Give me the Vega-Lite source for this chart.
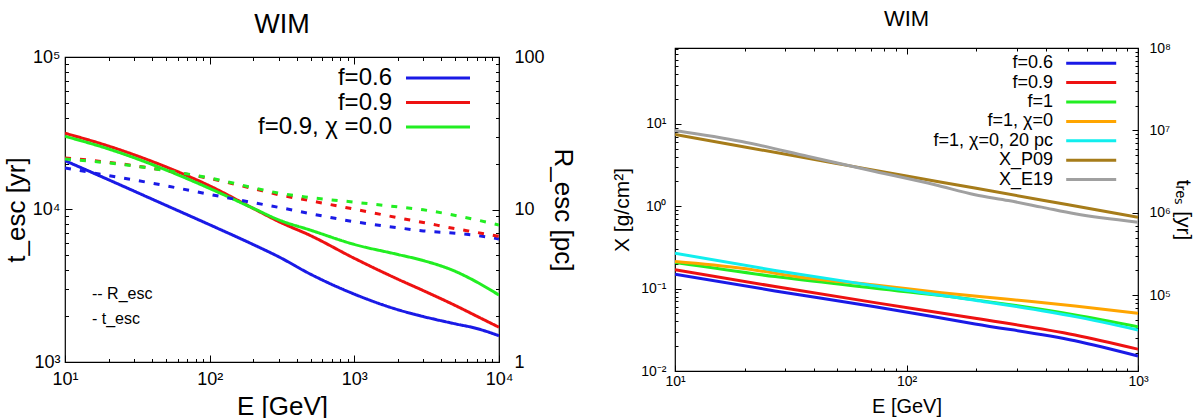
{
  "$schema": "https://vega.github.io/schema/vega-lite/v6.json",
  "padding": {"left": 2, "top": 6, "right": 0, "bottom": 0},
  "background": "white",
  "bounds": "flush",
  "spacing": 176,
  "center": true,
  "config": {
    "font": "Liberation Sans",
    "view": {"stroke": "black", "strokeWidth": 1.2},
    "title": {"font": "Liberation Sans", "fontWeight": "normal", "color": "black", "anchor": "middle"},
    "axis": {
      "domain": false, "grid": false, "tickColor": "black", "tickWidth": 1,
      "labelColor": "black", "titleColor": "black", "titleFontWeight": "normal",
      "labelFont": "Liberation Sans", "titleFont": "Liberation Sans",
      "labelFlush": false, "labelOverlap": false, "labelBound": false
    },
    "legend": {"labelFont": "Liberation Sans", "labelColor": "black", "padding": 0}
  },
  "resolve": {"scale": {"x": "independent", "y": "independent", "color": "independent", "strokeDash": "independent"}},
  "datasets": {
    "left_t": [
      {"E": 10, "t": 20893, "series": "f=0.6"}, {"E": 20, "t": 15668, "series": "f=0.6"}, {"E": 50, "t": 10641, "series": "f=0.6"},
      {"E": 100, "t": 7943, "series": "f=0.6"}, {"E": 200, "t": 5890, "series": "f=0.6"}, {"E": 300, "t": 4898, "series": "f=0.6"},
      {"E": 500, "t": 3758, "series": "f=0.6"}, {"E": 1000, "t": 2786, "series": "f=0.6"}, {"E": 2000, "t": 2203, "series": "f=0.6"},
      {"E": 3000, "t": 1986, "series": "f=0.6"}, {"E": 5000, "t": 1778, "series": "f=0.6"}, {"E": 7000, "t": 1660, "series": "f=0.6"},
      {"E": 10000, "t": 1486, "series": "f=0.6"},
      {"E": 10, "t": 31623, "series": "f=0.9"}, {"E": 20, "t": 26062, "series": "f=0.9"}, {"E": 50, "t": 19011, "series": "f=0.9"},
      {"E": 100, "t": 14289, "series": "f=0.9"}, {"E": 200, "t": 10162, "series": "f=0.9"}, {"E": 300, "t": 8337, "series": "f=0.9"},
      {"E": 500, "t": 6730, "series": "f=0.9"}, {"E": 1000, "t": 4786, "series": "f=0.9"}, {"E": 2000, "t": 3491, "series": "f=0.9"},
      {"E": 3000, "t": 2938, "series": "f=0.9"}, {"E": 5000, "t": 2344, "series": "f=0.9"}, {"E": 7000, "t": 2000, "series": "f=0.9"},
      {"E": 10000, "t": 1690, "series": "f=0.9"},
      {"E": 10, "t": 30200, "series": "f=0.9, χ =0.0"}, {"E": 20, "t": 24946, "series": "f=0.9, χ =0.0"}, {"E": 50, "t": 18155, "series": "f=0.9, χ =0.0"},
      {"E": 100, "t": 13740, "series": "f=0.9, χ =0.0"}, {"E": 200, "t": 10186, "series": "f=0.9, χ =0.0"}, {"E": 300, "t": 8551, "series": "f=0.9, χ =0.0"},
      {"E": 500, "t": 7311, "series": "f=0.9, χ =0.0"}, {"E": 1000, "t": 5902, "series": "f=0.9, χ =0.0"}, {"E": 2000, "t": 5070, "series": "f=0.9, χ =0.0"},
      {"E": 3000, "t": 4624, "series": "f=0.9, χ =0.0"}, {"E": 5000, "t": 3926, "series": "f=0.9, χ =0.0"}, {"E": 7000, "t": 3350, "series": "f=0.9, χ =0.0"},
      {"E": 10000, "t": 2748, "series": "f=0.9, χ =0.0"}
    ],
    "left_R": [
      {"E": 10, "R": 18.7, "series": "f=0.6"}, {"E": 20, "R": 16.7, "series": "f=0.6"}, {"E": 50, "R": 14.3, "series": "f=0.6"},
      {"E": 100, "R": 12.56, "series": "f=0.6"}, {"E": 200, "R": 11.09, "series": "f=0.6"}, {"E": 300, "R": 10.33, "series": "f=0.6"},
      {"E": 500, "R": 9.38, "series": "f=0.6"}, {"E": 1000, "R": 8.32, "series": "f=0.6"}, {"E": 2000, "R": 7.59, "series": "f=0.6"},
      {"E": 3000, "R": 7.24, "series": "f=0.6"}, {"E": 5000, "R": 6.98, "series": "f=0.6"}, {"E": 7000, "R": 6.76, "series": "f=0.6"},
      {"E": 10000, "R": 6.41, "series": "f=0.6"},
      {"E": 10, "R": 21.8, "series": "f=0.9"}, {"E": 20, "R": 20.4, "series": "f=0.9"}, {"E": 50, "R": 18.0, "series": "f=0.9"},
      {"E": 100, "R": 15.96, "series": "f=0.9"}, {"E": 200, "R": 13.7, "series": "f=0.9"}, {"E": 300, "R": 12.5, "series": "f=0.9"},
      {"E": 500, "R": 11.4, "series": "f=0.9"}, {"E": 1000, "R": 10.05, "series": "f=0.9"}, {"E": 2000, "R": 8.83, "series": "f=0.9"},
      {"E": 3000, "R": 8.22, "series": "f=0.9"}, {"E": 5000, "R": 7.48, "series": "f=0.9"}, {"E": 7000, "R": 7.08, "series": "f=0.9"},
      {"E": 10000, "R": 6.67, "series": "f=0.9"},
      {"E": 10, "R": 21.4, "series": "f=0.9, χ =0.0"}, {"E": 20, "R": 20.2, "series": "f=0.9, χ =0.0"}, {"E": 50, "R": 18.0, "series": "f=0.9, χ =0.0"},
      {"E": 100, "R": 16.1, "series": "f=0.9, χ =0.0"}, {"E": 200, "R": 13.9, "series": "f=0.9, χ =0.0"}, {"E": 300, "R": 12.8, "series": "f=0.9, χ =0.0"},
      {"E": 500, "R": 11.97, "series": "f=0.9, χ =0.0"}, {"E": 1000, "R": 11.17, "series": "f=0.9, χ =0.0"}, {"E": 2000, "R": 10.4, "series": "f=0.9, χ =0.0"},
      {"E": 3000, "R": 9.95, "series": "f=0.9, χ =0.0"}, {"E": 5000, "R": 9.14, "series": "f=0.9, χ =0.0"}, {"E": 7000, "R": 8.55, "series": "f=0.9, χ =0.0"},
      {"E": 10000, "R": 7.91, "series": "f=0.9, χ =0.0"}
    ],
    "right": [
      {"E": 10, "X": 0.150, "series": "f=0.6"}, {"E": 27.04, "X": 0.0938, "series": "f=0.6"}, {"E": 73.1, "X": 0.0604, "series": "f=0.6"},
      {"E": 197.7, "X": 0.0372, "series": "f=0.6"}, {"E": 534.6, "X": 0.0233, "series": "f=0.6"}, {"E": 1000, "X": 0.0152, "series": "f=0.6"},
      {"E": 10, "X": 0.169, "series": "f=0.9"}, {"E": 27.04, "X": 0.106, "series": "f=0.9"}, {"E": 73.1, "X": 0.0676, "series": "f=0.9"},
      {"E": 197.7, "X": 0.0437, "series": "f=0.9"}, {"E": 534.6, "X": 0.0274, "series": "f=0.9"}, {"E": 1000, "X": 0.0184, "series": "f=0.9"},
      {"E": 10, "X": 0.207, "series": "f=1"}, {"E": 27.04, "X": 0.140, "series": "f=1"}, {"E": 73.1, "X": 0.101, "series": "f=1"},
      {"E": 197.7, "X": 0.0730, "series": "f=1"}, {"E": 534.6, "X": 0.0479, "series": "f=1"}, {"E": 1000, "X": 0.0345, "series": "f=1"},
      {"E": 10, "X": 0.213, "series": "f=1, χ=0"}, {"E": 19.4, "X": 0.177, "series": "f=1, χ=0"}, {"E": 37.7, "X": 0.134, "series": "f=1, χ=0"},
      {"E": 73.1, "X": 0.111, "series": "f=1, χ=0"}, {"E": 141.9, "X": 0.0893, "series": "f=1, χ=0"}, {"E": 275.4, "X": 0.0743, "series": "f=1, χ=0"},
      {"E": 534.6, "X": 0.0617, "series": "f=1, χ=0"}, {"E": 1000, "X": 0.0502, "series": "f=1, χ=0"},
      {"E": 10, "X": 0.269, "series": "f=1, χ=0, 20 pc"}, {"E": 27.04, "X": 0.166, "series": "f=1, χ=0, 20 pc"}, {"E": 73.1, "X": 0.108, "series": "f=1, χ=0, 20 pc"},
      {"E": 197.7, "X": 0.0724, "series": "f=1, χ=0, 20 pc"}, {"E": 534.6, "X": 0.0457, "series": "f=1, χ=0, 20 pc"}, {"E": 1000, "X": 0.0315, "series": "f=1, χ=0, 20 pc"},
      {"E": 10, "X": 7.41, "series": "X_P09"}, {"E": 20, "X": 5.24, "series": "X_P09"}, {"E": 50, "X": 3.30, "series": "X_P09"},
      {"E": 100, "X": 2.33, "series": "X_P09"}, {"E": 200, "X": 1.65, "series": "X_P09"}, {"E": 500, "X": 1.04, "series": "X_P09"},
      {"E": 1000, "X": 0.733, "series": "X_P09"},
      {"E": 10, "X": 8.32, "series": "X_E19"}, {"E": 19.4, "X": 6.11, "series": "X_E19"}, {"E": 37.7, "X": 4.02, "series": "X_E19"},
      {"E": 73.1, "X": 2.64, "series": "X_E19"}, {"E": 132.7, "X": 1.82, "series": "X_E19"}, {"E": 197.7, "X": 1.377, "series": "X_E19"},
      {"E": 275.4, "X": 1.172, "series": "X_E19"}, {"E": 383.7, "X": 0.975, "series": "X_E19"}, {"E": 534.6, "X": 0.809, "series": "X_E19"},
      {"E": 1000, "X": 0.641, "series": "X_E19"}
    ]
  },
  "hconcat": [
    {
      "width": 434,
      "height": 305,
      "title": {"text": "WIM", "fontSize": 27, "offset": 9},
      "layer": [
        {
          "data": {"name": "left_t"},
          "mark": {"type": "line", "strokeWidth": 3, "clip": true, "interpolate": "monotone"},
          "encoding": {
            "x": {
              "field": "E", "type": "quantitative",
              "scale": {"type": "log", "domain": [10, 10000]},
              "axis": {
                "orient": "bottom", "title": "E [GeV]", "titleFontSize": 26, "titlePadding": 2,
                "values": [10, 20, 30, 40, 50, 60, 70, 80, 90, 100, 200, 300, 400, 500, 600, 700, 800, 900, 1000, 2000, 3000, 4000, 5000, 6000, 7000, 8000, 9000, 10000],
                "labelExpr": "abs(log(datum.value)/LN10 - round(log(datum.value)/LN10)) < 0.001 ? '10' + ['⁰','¹','²','³','⁴','⁵','⁶','⁷','⁸','⁹'][round(log(datum.value)/LN10)] : ''",
                "labelFontSize": 18, "labelPadding": 15,
                "tickSize": {"condition": {"test": "abs(log(datum.value)/LN10 - round(log(datum.value)/LN10)) < 0.001", "value": -7}, "value": -3.5}
              }
            },
            "y": {
              "field": "t", "type": "quantitative",
              "scale": {"type": "log", "domain": [1000, 100000]},
              "axis": {
                "orient": "left", "title": "t_esc [yr]", "titleFontSize": 26, "titlePadding": 3,
                "values": [1000, 2000, 3000, 4000, 5000, 6000, 7000, 8000, 9000, 10000, 20000, 30000, 40000, 50000, 60000, 70000, 80000, 90000, 100000],
                "labelExpr": "abs(log(datum.value)/LN10 - round(log(datum.value)/LN10)) < 0.001 ? '10' + ['⁰','¹','²','³','⁴','⁵','⁶','⁷','⁸','⁹'][round(log(datum.value)/LN10)] : ''",
                "labelFontSize": 18, "labelPadding": 12,
                "tickSize": {"condition": {"test": "abs(log(datum.value)/LN10 - round(log(datum.value)/LN10)) < 0.001", "value": -7}, "value": -3.5}
              }
            },
            "color": {
              "field": "series", "type": "nominal",
              "scale": {"domain": ["f=0.6", "f=0.9", "f=0.9, χ =0.0"], "range": ["#1a1ae6", "#ee1111", "#22ee22"]},
              "legend": {
                "title": null, "orient": "none", "legendX": 361, "legendY": 9,
                "symbolType": "M-6.4,0H6.4", "symbolSize": 100, "symbolStrokeWidth": 3,
                "labelFontSize": 24, "labelAlign": "right", "labelOffset": -58, "labelLimit": 400, "rowPadding": 0.5
              }
            },
            "strokeDash": {
              "datum": "- t_esc", "type": "nominal",
              "scale": {"domain": ["-- R_esc", "- t_esc"], "range": [[6, 9], [1, 0]]},
              "legend": {
                "title": null, "orient": "none", "legendX": 11, "legendY": 229,
                "symbolOpacity": 0, "symbolSize": 1, "labelFontSize": 16, "labelOffset": 0, "rowPadding": 9
              }
            }
          }
        },
        {
          "data": {"name": "left_R"},
          "mark": {"type": "line", "strokeWidth": 3, "clip": true, "interpolate": "monotone"},
          "encoding": {
            "x": {
              "field": "E", "type": "quantitative",
              "scale": {"type": "log", "domain": [10, 10000]},
              "axis": {
                "orient": "top", "title": null, "labels": false,
                "values": [10, 20, 30, 40, 50, 60, 70, 80, 90, 100, 200, 300, 400, 500, 600, 700, 800, 900, 1000, 2000, 3000, 4000, 5000, 6000, 7000, 8000, 9000, 10000],
                "tickSize": {"condition": {"test": "abs(log(datum.value)/LN10 - round(log(datum.value)/LN10)) < 0.001", "value": -7}, "value": -3.5}
              }
            },
            "y": {
              "field": "R", "type": "quantitative",
              "scale": {"type": "log", "domain": [1, 100]},
              "axis": {
                "orient": "right", "title": "R_esc [pc]", "titleFontSize": 26, "titlePadding": 5,
                "values": [1, 2, 3, 4, 5, 6, 7, 8, 9, 10, 20, 30, 40, 50, 60, 70, 80, 90, 100],
                "labelExpr": "abs(log(datum.value)/LN10 - round(log(datum.value)/LN10)) < 0.001 ? format(datum.value, '.0f') : ''",
                "labelFontSize": 18, "labelPadding": 22,
                "tickSize": {"condition": {"test": "abs(log(datum.value)/LN10 - round(log(datum.value)/LN10)) < 0.001", "value": -7}, "value": -3.5}
              }
            },
            "color": {"field": "series", "type": "nominal"},
            "strokeDash": {"datum": "-- R_esc", "type": "nominal"}
          }
        }
      ],
      "resolve": {"scale": {"y": "independent"}, "axis": {"x": "independent"}}
    },
    {
      "width": 463,
      "height": 323,
      "title": {"text": "WIM", "fontSize": 22, "offset": 10.5},
      "layer": [
        {
          "data": {"name": "right"},
          "mark": {"type": "line", "strokeWidth": 3, "clip": true, "interpolate": "monotone"},
          "encoding": {
            "x": {
              "field": "E", "type": "quantitative",
              "scale": {"type": "log", "domain": [10, 1000]},
              "axis": {
                "orient": "bottom", "title": "E [GeV]", "titleFontSize": 20, "titlePadding": 5,
                "values": [10, 20, 30, 40, 50, 60, 70, 80, 90, 100, 200, 300, 400, 500, 600, 700, 800, 900, 1000],
                "labelExpr": "abs(log(datum.value)/LN10 - round(log(datum.value)/LN10)) < 0.001 ? '10' + ['⁰','¹','²','³','⁴','⁵','⁶','⁷','⁸','⁹'][round(log(datum.value)/LN10)] : ''",
                "labelFontSize": 14, "labelPadding": 9,
                "tickSize": {"condition": {"test": "abs(log(datum.value)/LN10 - round(log(datum.value)/LN10)) < 0.001", "value": -6}, "value": -3}
              }
            },
            "y": {
              "field": "X", "type": "quantitative",
              "scale": {"type": "log", "domain": [0.01, 83.3]},
              "axis": {
                "orient": "left", "title": "X [g/cm²]", "titleFontSize": 21, "titlePadding": 8,
                "values": [0.01, 0.02, 0.03, 0.04, 0.05, 0.06, 0.07, 0.08, 0.09, 0.1, 0.2, 0.3, 0.4, 0.5, 0.6, 0.7, 0.8, 0.9, 1, 2, 3, 4, 5, 6, 7, 8, 9, 10, 20, 30, 40, 50, 60, 70, 80],
                "labelExpr": "abs(log(datum.value)/LN10 - round(log(datum.value)/LN10)) < 0.001 ? '10' + (round(log(datum.value)/LN10) < 0 ? '⁻' : '') + ['⁰','¹','²','³','⁴','⁵','⁶','⁷','⁸','⁹'][abs(round(log(datum.value)/LN10))] : ''",
                "labelFontSize": 14, "labelPadding": 15,
                "tickSize": {"condition": {"test": "abs(log(datum.value)/LN10 - round(log(datum.value)/LN10)) < 0.001", "value": -6}, "value": -3}
              }
            },
            "color": {
              "field": "series", "type": "nominal",
              "scale": {
                "domain": ["f=0.6", "f=0.9", "f=1", "f=1, χ=0", "f=1, χ=0, 20 pc", "X_P09", "X_E19"],
                "range": ["#1a1ae6", "#ee1111", "#22ee22", "#ffa500", "#11eeee", "#a67c1a", "#a0a0a0"]
              },
              "legend": {
                "title": null, "orient": "none", "legendX": 407.2, "legendY": 6.2,
                "symbolType": "M-5,0H5", "symbolSize": 100, "symbolStrokeWidth": 3,
                "labelFontSize": 18, "labelAlign": "right", "labelOffset": -47.2, "labelLimit": 400, "rowPadding": 1.4
              }
            }
          }
        },
        {
          "data": {"values": [{}]},
          "mark": {"type": "point", "opacity": 0},
          "encoding": {
            "x": {
              "datum": 100, "type": "quantitative",
              "scale": {"type": "log", "domain": [10, 1000]},
              "axis": {
                "orient": "top", "title": null, "labels": false,
                "values": [10, 20, 30, 40, 50, 60, 70, 80, 90, 100, 200, 300, 400, 500, 600, 700, 800, 900, 1000],
                "tickSize": {"condition": {"test": "abs(log(datum.value)/LN10 - round(log(datum.value)/LN10)) < 0.001", "value": -6}, "value": -3}
              }
            },
            "y": {
              "datum": 1000000, "type": "quantitative",
              "scale": {"type": "log", "domain": [12000, 100000000]},
              "axis": {
                "orient": "right", "title": "tᵣₑₛ [yr]", "titleFontSize": 21, "titlePadding": 2,
                "values": [20000, 30000, 40000, 50000, 60000, 70000, 80000, 90000, 100000, 200000, 300000, 400000, 500000, 600000, 700000, 800000, 900000, 1000000, 2000000, 3000000, 4000000, 5000000, 6000000, 7000000, 8000000, 9000000, 10000000, 20000000, 30000000, 40000000, 50000000, 60000000, 70000000, 80000000, 90000000, 100000000],
                "labelExpr": "abs(log(datum.value)/LN10 - round(log(datum.value)/LN10)) < 0.001 ? '10' + ['⁰','¹','²','³','⁴','⁵','⁶','⁷','⁸','⁹'][round(log(datum.value)/LN10)] : ''",
                "labelFontSize": 14, "labelPadding": 17,
                "tickSize": {"condition": {"test": "abs(log(datum.value)/LN10 - round(log(datum.value)/LN10)) < 0.001", "value": -6}, "value": -3}
              }
            }
          }
        }
      ],
      "resolve": {"scale": {"y": "independent"}, "axis": {"x": "independent"}}
    }
  ]
}
